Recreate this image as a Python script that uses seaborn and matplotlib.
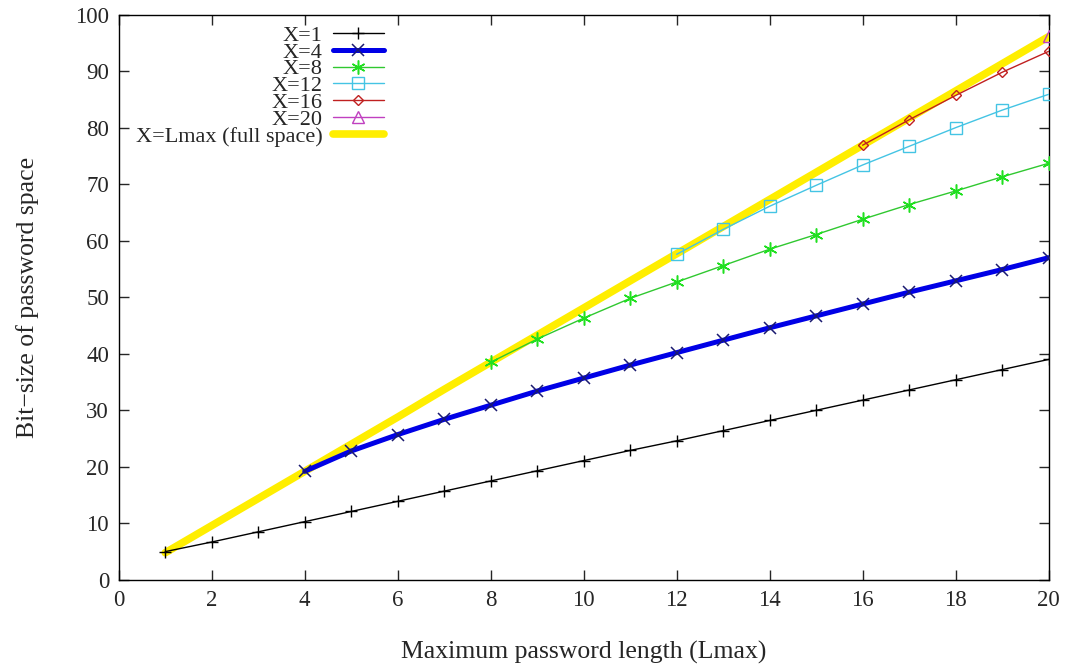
import numpy as np
import pandas as pd
import matplotlib
matplotlib.use("Agg")
import matplotlib.pyplot as plt
import seaborn as sns

# data
lengths = list(range(1, 21))

x1 = [5.0, 6.7, 8.5, 10.3, 12.1, 13.9, 15.7, 17.5, 19.3, 21.1,
      22.9, 24.6, 26.4, 28.2, 30.0, 31.8, 33.6, 35.4, 37.2, 39.0]
x4 = [19.2, 22.8, 25.7, 28.4, 30.9, 33.4, 35.7, 38.0, 40.2,
      42.4, 44.6, 46.7, 48.8, 50.9, 52.9, 54.9, 57.0]
x8 = [38.5, 42.6, 46.3, 49.8, 52.7, 55.6, 58.5, 61.1, 63.8,
      66.4, 68.8, 71.3, 73.7]
x12 = [57.6, 62.0, 66.1, 69.8, 73.4, 76.7, 80.0, 83.1, 85.9]
x16 = [76.9, 81.4, 85.7, 89.8, 93.5]
x20 = [96.3]
full_space = [4.8, 9.6, 14.4, 19.2, 24.0, 28.8, 33.7, 38.5, 43.3, 48.1,
              52.9, 57.7, 62.5, 67.3, 72.1, 76.9, 81.7, 86.5, 91.3, 96.1]

series_labels = ["X=1", "X=4", "X=8", "X=12", "X=16", "X=20", "X=Lmax (full space)"]

sns.set_style("ticks")
plt.rcParams["font.family"] = ["Liberation Serif", "DejaVu Serif"]

fig = plt.figure(figsize=(10.7, 6.65), dpi=100)
ax = fig.add_axes([0.111, 0.128, 0.869, 0.850])

def draw(ys, label, color, **kw):
    xs = lengths[len(lengths) - len(ys):]
    sns.lineplot(x=xs, y=ys, ax=ax, label=label, color=color, **kw)

draw(x1, series_labels[0], "black", linewidth=1.0, marker="+",
     markersize=9, markeredgewidth=1.0, markeredgecolor="black", zorder=4)
draw(x4, series_labels[1], "#0000e6", linewidth=3.6, marker="x",
     markersize=8.5, markeredgewidth=1.1, markeredgecolor="#1a1a70", zorder=5)
draw(x8, series_labels[2], "#30c830", linewidth=1.0, marker=(6, 2, 0),
     markersize=10, markeredgewidth=1.1, markeredgecolor="#20e020", zorder=4)
draw(x12, series_labels[3], "#44c4e4", linewidth=1.0, marker="s",
     markersize=8, markerfacecolor="none", markeredgewidth=1.0,
     markeredgecolor="#44c4e4", zorder=4)
draw(x16, series_labels[4], "#c02020", linewidth=1.0, marker="D",
     markersize=5.5, markerfacecolor="none", markeredgewidth=1.0,
     markeredgecolor="#c02020", zorder=4)
draw(x20, series_labels[5], "#c040c0", linewidth=1.0, marker="^",
     markersize=9, markerfacecolor="none", markeredgewidth=1.0,
     markeredgecolor="#c040c0", zorder=4)
draw(full_space, series_labels[6], "#ffee00", linewidth=5.5, zorder=3)

ax.set_xlim(0, 20)
ax.set_ylim(0, 100)
ax.set_xticks(range(0, 21, 2))
ax.set_yticks(range(0, 101, 10))
ax.tick_params(direction="in", top=True, right=True, length=7, width=1,
               labelsize=16.5, pad=7)
for s in ax.spines.values():
    s.set_linewidth(1.0)
    s.set_color("black")

ax.set_xlabel("Maximum password length (Lmax)", fontsize=18.5, labelpad=22)
ax.set_ylabel("Bit\u2212size of password space", fontsize=18.5, labelpad=26)

leg = ax.legend(loc="upper right", bbox_to_anchor=(0.285, 0.981), frameon=False,
                markerfirst=False, fontsize=16, handlelength=2.3,
                labelspacing=-0.17, handletextpad=0.45, borderpad=0.0,
                borderaxespad=0.0)

fig.savefig("out.png", dpi=100)
